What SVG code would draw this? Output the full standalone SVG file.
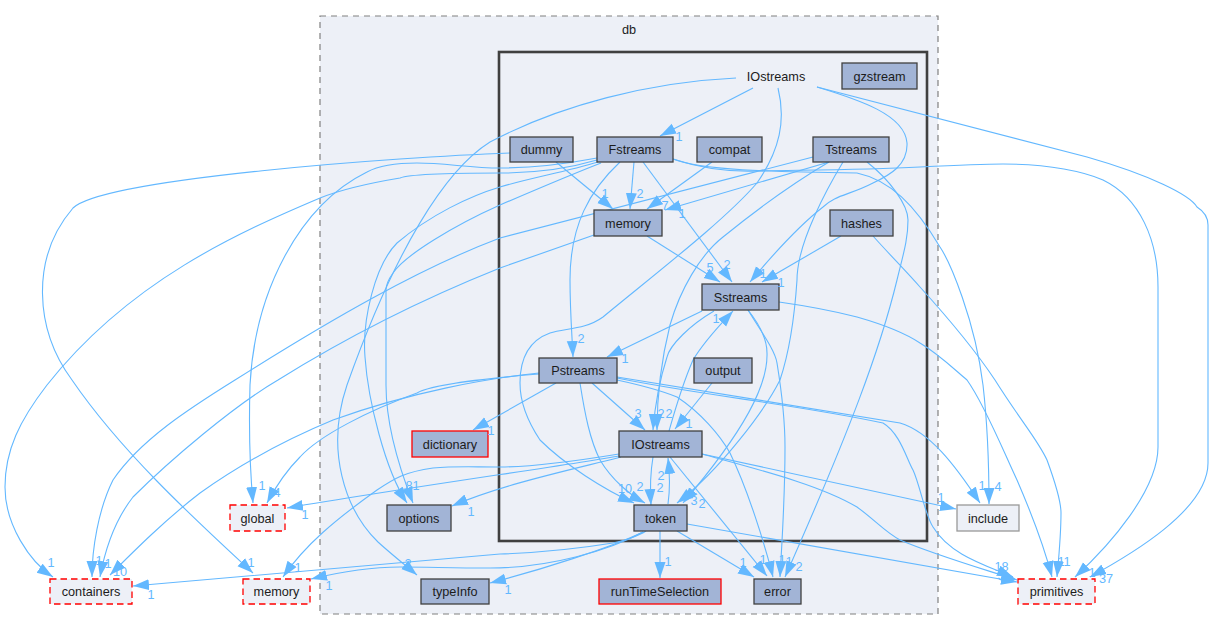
<svg xmlns="http://www.w3.org/2000/svg" width="1214" height="631" viewBox="0 0 1214 631">
<style>
text{font-family:"Liberation Sans",Arial,sans-serif;font-size:12.7px;text-anchor:middle;fill:#1c1c1c}
.n rect{fill:#a2b4d6;stroke:#404040;stroke-width:1.3}
.r rect{stroke:#ff0000}
.x rect{fill:#edf0f7;stroke:#ff0000;stroke-dasharray:6.5,4;stroke-width:1.3}
#include rect{fill:#edf0f7;stroke:#999;stroke-width:1.3}
#edges path{fill:none;stroke:#63b8ff;stroke-width:1.1;marker-end:url(#a)}
#labels text{fill:#63b8ff}
</style>
<defs><marker id="a" markerUnits="userSpaceOnUse" markerWidth="17" markerHeight="13" refX="16" refY="6" orient="auto"><path d="M0,0.5L16,6L0,11.5z" fill="#63b8ff"/></marker></defs>
<rect width="1214" height="631" fill="#fff"/>
<g id="cluster-db"><rect x="320" y="16" width="618" height="598" fill="#edf0f7" stroke="#808080" stroke-width="1.2" stroke-dasharray="6,5"/><text x="629" y="34">db</text></g>
<g id="cluster-IOstreams"><rect x="499" y="52" width="428" height="489" fill="#edf0f7" stroke="#404040" stroke-width="2.6"/><text x="776" y="81">IOstreams</text></g>
<g id="edges">
<path d="M753,88L660,136"/>
<path d="M736,78C650,82 560,105 490,142C445,170 395,250 347,385C325,450 345,510 378,542C390,553 405,565 417,575"/>
<path d="M778,88C786,120 780,150 757,183C725,220 660,270 603,317C585,330 565,328 550,333C525,342 520,365 520,383C520,405 530,425 540,440C565,465 605,490 634,503"/>
<path d="M817,87C860,100 905,115 907,143C908,165 890,175 873,183C850,195 835,195 823,207C800,225 770,258 750,282"/>
<path d="M817,87L1087,157C1150,175 1190,195 1197,207C1205,212 1208,218 1208,225L1208,463C1208,510 1130,555 1090,577"/>
<path d="M673,159C700,168 730,172 757,171C800,170 860,170 920,167C960,165 985,164 1003,164C1050,164 1085,172 1103,180C1140,198 1158,240 1158,287L1158,447C1158,490 1110,545 1075,577"/>
<path d="M673,159C700,170 770,172 857,173C890,180 915,205 940,247C950,262 975,320 983,385C987,420 989,460 989,504"/>
<path d="M634,162L630,209"/>
<path d="M643,162L732,282"/>
<path d="M620,162C590,190 570,225 570,280C570,310 572,335 573,357"/>
<path d="M597,158C560,165 530,168 500,168C470,168 445,163 417,163C400,163 380,165 367,172C300,205 255,290 250,385C249,420 250,470 253,503"/>
<path d="M597,160C570,168 540,173 500,173C450,173 410,174 400,178C370,183 340,190 320,198C240,232 130,280 47,385C20,420 5,450 5,487C5,525 30,562 53,577"/>
<path d="M598,162C565,172 530,178 500,187C470,196 430,215 397,243C375,265 362,320 365,357C368,400 385,470 407,503"/>
<path d="M601,163C570,175 535,190 500,205C455,225 405,255 393,273C388,280 386,285 386,290L386,385C386,425 400,470 413,503"/>
<path d="M510,153C400,157 105,178 73,208C30,258 35,330 72,380C120,450 190,515 253,573"/>
<path d="M813,157L500,238C420,268 330,320 235,380C190,408 140,440 113,480C98,510 92,550 92,577"/>
<path d="M594,235L500,268C420,300 350,335 278,380C235,405 170,460 133,497C115,520 105,550 100,577"/>
<path d="M539,373C490,378 410,392 333,420C280,442 235,468 200,493C165,520 135,550 110,575"/>
<path d="M539,374C490,378 430,385 417,393C370,410 320,435 300,457C285,472 275,488 267,503"/>
<path d="M556,383L473,430"/>
<path d="M619,454C570,462 530,467 500,467C470,467 455,466 433,468C405,472 395,478 377,490C335,520 305,545 283,577"/>
<path d="M619,456C570,465 410,487 287,508"/>
<path d="M621,457C570,470 500,485 452,506"/>
<path d="M646,531C640,535 625,541 613,543C570,550 530,553 500,554L133,586"/>
<path d="M643,532C610,550 550,568 490,568C450,568 430,567 400,567C370,567 340,572 311,579"/>
<path d="M643,532C610,548 540,570 490,583"/>
<path d="M660,531L660,578"/>
<path d="M677,531L754,577"/>
<path d="M687,524L1017,582"/>
<path d="M653,457C650,475 650,490 651,505"/>
<path d="M668,504C670,490 670,475 668,458"/>
<path d="M670,457L767,576"/>
<path d="M702,454L956,509"/>
<path d="M702,454C760,470 820,485 857,507C875,520 885,532 900,540C935,555 980,568 1017,580"/>
<path d="M669,431C675,410 682,385 693,360C705,340 720,325 733,311"/>
<path d="M714,311C690,325 670,345 667,357C658,385 655,405 653,430"/>
<path d="M702,311L607,357"/>
<path d="M748,310C760,325 767,340 767,353C768,385 745,430 683,503"/>
<path d="M748,310C760,330 775,350 777,363C783,400 785,430 785,447C785,500 782,540 780,577"/>
<path d="M779,302C800,305 830,310 857,317C885,325 905,333 920,343C940,355 955,370 967,380C985,405 1005,455 1017,480C1030,510 1045,550 1052,577"/>
<path d="M873,236C890,255 905,270 920,287C950,320 975,350 995,380C1020,420 1038,440 1047,460C1058,490 1061,505 1061,513C1061,535 1059,555 1057,577"/>
<path d="M841,236L762,282"/>
<path d="M867,162C890,180 908,205 908,220C908,240 903,255 897,280C880,350 850,430 785,577"/>
<path d="M843,162C820,200 805,235 800,257C797,270 797,280 797,280C795,310 790,350 780,380C765,410 720,470 677,503"/>
<path d="M829,162C790,185 750,215 723,237C700,255 680,290 670,325C660,365 657,400 657,430"/>
<path d="M829,162L665,210"/>
<path d="M712,162L647,209"/>
<path d="M556,162L613,209"/>
<path d="M617,377L900,423C930,432 955,465 980,503"/>
<path d="M617,378C700,395 800,405 883,423C900,433 907,460 913,470C920,485 925,515 933,527C950,555 985,565 1013,577"/>
<path d="M617,380C640,385 660,390 677,397C700,412 720,435 730,453C748,490 765,545 773,577"/>
<path d="M592,383L645,430"/>
<path d="M580,383C585,415 590,440 600,460C612,480 630,495 645,503"/>
<path d="M712,383L675,429"/>
<path d="M647,236L720,282"/>
</g>
<g id="gzstream" class="n"><rect x="842" y="63" width="75" height="26"/><text x="879.5" y="81">gzstream</text></g>
<g id="dummy" class="n"><rect x="510" y="137" width="63" height="25"/><text x="541.5" y="154">dummy</text></g>
<g id="Fstreams" class="n"><rect x="597" y="137" width="76" height="25"/><text x="635" y="154">Fstreams</text></g>
<g id="compat" class="n"><rect x="697" y="137" width="65" height="25"/><text x="729.5" y="154">compat</text></g>
<g id="Tstreams" class="n"><rect x="813" y="137" width="76" height="25"/><text x="851" y="154">Tstreams</text></g>
<g id="memory-inner" class="n"><rect x="594" y="210" width="68" height="26"/><text x="628" y="228">memory</text></g>
<g id="hashes" class="n"><rect x="830" y="210" width="63" height="26"/><text x="861.5" y="228">hashes</text></g>
<g id="Sstreams" class="n"><rect x="702" y="284" width="77" height="26"/><text x="740.5" y="302">Sstreams</text></g>
<g id="Pstreams" class="n"><rect x="539" y="358" width="78" height="25"/><text x="578" y="375">Pstreams</text></g>
<g id="output" class="n"><rect x="694" y="358" width="58" height="25"/><text x="723" y="375">output</text></g>
<g id="IOstreams-inner" class="n"><rect x="619" y="431" width="83" height="26"/><text x="660.5" y="449">IOstreams</text></g>
<g id="token" class="n"><rect x="634" y="505" width="53" height="26"/><text x="660.5" y="523">token</text></g>
<g id="runTimeSelection" class="n r"><rect x="599" y="579" width="122" height="25"/><text x="660" y="596">runTimeSelection</text></g>
<g id="error" class="n"><rect x="754" y="579" width="47" height="25"/><text x="777.5" y="596">error</text></g>
<g id="dictionary" class="n r"><rect x="412" y="431" width="76" height="26"/><text x="450" y="449">dictionary</text></g>
<g id="options" class="n"><rect x="387" y="505" width="64" height="26"/><text x="419" y="523">options</text></g>
<g id="typeInfo" class="n"><rect x="421" y="579" width="68" height="25"/><text x="455" y="596">typeInfo</text></g>
<g id="global" class="x"><rect x="230" y="505" width="55" height="26"/><text x="257.5" y="523">global</text></g>
<g id="containers" class="x"><rect x="50" y="579" width="82" height="25"/><text x="91" y="596">containers</text></g>
<g id="memory" class="x"><rect x="243" y="579" width="67" height="25"/><text x="276.5" y="596">memory</text></g>
<g id="include"><rect x="957" y="505" width="62" height="26"/><text x="988" y="523">include</text></g>
<g id="primitives" class="x"><rect x="1018" y="579" width="77" height="25"/><text x="1056.5" y="596">primitives</text></g>
<g id="labels">
<text x="679" y="141">1</text><text x="605" y="198">1</text><text x="640" y="198">2</text><text x="665" y="210">7</text><text x="682" y="218">1</text>
<text x="710" y="272">5</text><text x="727" y="269">2</text><text x="763" y="278">1</text><text x="781" y="287">1</text>
<text x="716" y="323">1</text><text x="581" y="343">2</text><text x="625" y="363">1</text><text x="491" y="435">1</text>
<text x="638" y="418">3</text><text x="661" y="418">2</text><text x="669" y="418">2</text><text x="689" y="428">1</text>
<text x="625" y="493">10</text><text x="640" y="491">2</text><text x="660" y="492">2</text><text x="661" y="480">2</text><text x="694" y="505">3</text><text x="702" y="508">2</text>
<text x="668" y="566">1</text><text x="743" y="567">1</text><text x="763" y="564">1</text><text x="782" y="564">1</text><text x="789" y="566">1</text><text x="799" y="571">2</text>
<text x="51" y="567">1</text><text x="99" y="565">1</text><text x="108" y="568">1</text><text x="120" y="576">10</text><text x="151" y="599">1</text>
<text x="251" y="567">1</text><text x="298" y="572">1</text><text x="329" y="590">1</text><text x="408" y="568">2</text><text x="508" y="594">1</text>
<text x="262" y="490">1</text><text x="277" y="497">4</text><text x="305" y="519">1</text>
<text x="409" y="490">8</text><text x="416" y="490">1</text><text x="471" y="516">1</text>
<text x="941" y="502">1</text><text x="982" y="490">1</text><text x="998" y="491">4</text>
<text x="998" y="571">1</text><text x="1005" y="571">8</text><text x="1001" y="580">5</text><text x="1061" y="566">1</text><text x="1067" y="566">1</text><text x="1092" y="577">1</text><text x="1106" y="583">37</text>
</g>
</svg>
